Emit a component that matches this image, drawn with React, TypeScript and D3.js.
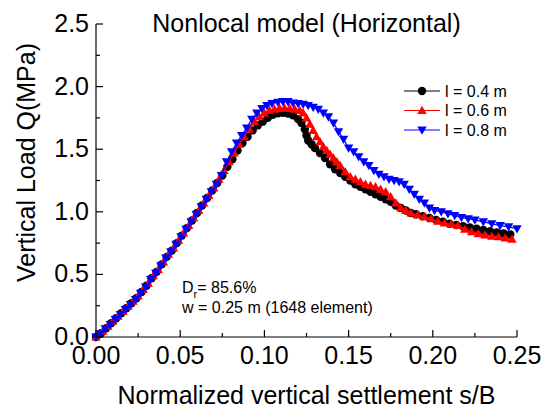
import React from "react";
import * as d3 from "d3";

// ---- data ----
const sBlack = [0, 0.003, 0.006, 0.009, 0.012, 0.015, 0.018, 0.021, 0.024, 0.027, 0.030, 0.033, 0.036, 0.039, 0.042, 0.045, 0.048, 0.051, 0.054, 0.057, 0.060, 0.063, 0.066, 0.069, 0.072, 0.075, 0.078, 0.081, 0.084, 0.087, 0.090, 0.093, 0.096, 0.099, 0.102, 0.105, 0.108, 0.111, 0.114, 0.117, 0.120, 0.122, 0.124, 0.125, 0.126, 0.128, 0.130, 0.133, 0.136, 0.139, 0.142, 0.145, 0.148, 0.151, 0.154, 0.157, 0.160, 0.163, 0.166, 0.169, 0.172, 0.175, 0.178, 0.181, 0.184, 0.187, 0.190, 0.194, 0.198, 0.202, 0.206, 0.210, 0.214, 0.218, 0.222, 0.226, 0.230, 0.234, 0.238, 0.242, 0.246];
const qBlack = [0, 0.03, 0.07, 0.11, 0.15, 0.19, 0.23, 0.27, 0.31, 0.36, 0.41, 0.47, 0.52, 0.58, 0.64, 0.69, 0.75, 0.81, 0.87, 0.93, 0.99, 1.05, 1.11, 1.17, 1.23, 1.29, 1.36, 1.42, 1.49, 1.55, 1.60, 1.65, 1.69, 1.72, 1.75, 1.775, 1.787, 1.79, 1.785, 1.77, 1.74, 1.71, 1.66, 1.61, 1.57, 1.54, 1.51, 1.47, 1.43, 1.38, 1.34, 1.31, 1.28, 1.25, 1.22, 1.20, 1.18, 1.16, 1.14, 1.12, 1.10, 1.08, 1.05, 1.03, 1.01, 0.99, 0.98, 0.965, 0.95, 0.935, 0.92, 0.905, 0.895, 0.885, 0.875, 0.865, 0.855, 0.845, 0.835, 0.828, 0.82];

const sRed = [0, 0.004, 0.007, 0.010, 0.013, 0.016, 0.019, 0.022, 0.025, 0.028, 0.031, 0.034, 0.037, 0.040, 0.043, 0.046, 0.049, 0.052, 0.055, 0.058, 0.061, 0.064, 0.067, 0.070, 0.073, 0.076, 0.079, 0.082, 0.085, 0.088, 0.091, 0.094, 0.097, 0.100, 0.103, 0.106, 0.109, 0.112, 0.115, 0.118, 0.121, 0.123, 0.125, 0.127, 0.129, 0.131, 0.133, 0.135, 0.137, 0.139, 0.141, 0.143, 0.145, 0.148, 0.151, 0.154, 0.157, 0.160, 0.163, 0.166, 0.169, 0.172, 0.175, 0.178, 0.181, 0.184, 0.187, 0.191, 0.195, 0.199, 0.203, 0.207, 0.211, 0.215, 0.219, 0.223, 0.227, 0.231, 0.235, 0.239, 0.243, 0.247];
const qRed = [0, 0.045, 0.085, 0.125, 0.165, 0.205, 0.245, 0.285, 0.33, 0.38, 0.43, 0.49, 0.54, 0.60, 0.66, 0.71, 0.77, 0.83, 0.89, 0.95, 1.01, 1.07, 1.13, 1.19, 1.26, 1.33, 1.40, 1.47, 1.54, 1.60, 1.66, 1.72, 1.76, 1.79, 1.81, 1.82, 1.826, 1.828, 1.826, 1.82, 1.81, 1.79, 1.75, 1.70, 1.65, 1.60, 1.56, 1.52, 1.49, 1.46, 1.43, 1.40, 1.37, 1.32, 1.28, 1.26, 1.24, 1.22, 1.21, 1.20, 1.18, 1.16, 1.12, 1.07, 1.03, 1.01, 0.99, 0.975, 0.96, 0.945, 0.925, 0.91, 0.90, 0.89, 0.86, 0.84, 0.825, 0.815, 0.805, 0.80, 0.79, 0.78];

const sBlue = [0, 0.0025, 0.0055, 0.0085, 0.0115, 0.0145, 0.0175, 0.0205, 0.0235, 0.0265, 0.0295, 0.0325, 0.0355, 0.0385, 0.0415, 0.0445, 0.0475, 0.0505, 0.0535, 0.0565, 0.0595, 0.0625, 0.0655, 0.0685, 0.0715, 0.0745, 0.0775, 0.0805, 0.0835, 0.0865, 0.0895, 0.0925, 0.0955, 0.0985, 0.1015, 0.1045, 0.108, 0.111, 0.114, 0.117, 0.120, 0.123, 0.126, 0.129, 0.132, 0.135, 0.138, 0.141, 0.144, 0.147, 0.150, 0.153, 0.156, 0.159, 0.162, 0.165, 0.168, 0.171, 0.174, 0.177, 0.180, 0.183, 0.186, 0.189, 0.192, 0.195, 0.198, 0.201, 0.205, 0.209, 0.213, 0.217, 0.221, 0.225, 0.230, 0.235, 0.240, 0.245, 0.250];
const qBlue = [0, 0.025, 0.065, 0.10, 0.14, 0.18, 0.22, 0.26, 0.30, 0.35, 0.40, 0.46, 0.51, 0.57, 0.63, 0.68, 0.74, 0.80, 0.86, 0.92, 0.98, 1.04, 1.10, 1.16, 1.22, 1.29, 1.40, 1.48, 1.55, 1.61, 1.67, 1.74, 1.79, 1.825, 1.85, 1.865, 1.875, 1.88, 1.88, 1.87, 1.865, 1.86, 1.85, 1.835, 1.82, 1.79, 1.76, 1.71, 1.64, 1.58, 1.51, 1.48, 1.44, 1.40, 1.37, 1.33, 1.30, 1.28, 1.26, 1.25, 1.24, 1.22, 1.18, 1.14, 1.10, 1.07, 1.03, 1.01, 1.00, 0.985, 0.97, 0.955, 0.945, 0.935, 0.92, 0.905, 0.89, 0.88, 0.865];

const seriesNames = ["l = 0.4 m", "l = 0.6 m", "l = 0.8 m"];
const seriesColors = ["#000000", "#ff0000", "#0000ff"];
const xTicks = [0, 0.05, 0.1, 0.15, 0.2, 0.25];
const yTicks = [0, 0.5, 1.0, 1.5, 2.0, 2.5];

const FONT = "'Liberation Sans', Arial, Helvetica, sans-serif";

const W = 544, H = 410;
const left = 96, right = 517, top = 24, bottom = 337;

const x = d3.scaleLinear().domain([0, 0.25]).range([left, right]);
const y = d3.scaleLinear().domain([0, 2.5]).range([bottom, top]);

type Pt = [number, number];
const mk = (s: number[], q: number[]): Pt[] => s.map((v, i) => [v, q[i]]);
const series: Pt[][] = [mk(sBlack, qBlack), mk(sRed, qRed), mk(sBlue, qBlue)];

const line = d3.line<Pt>().x(d => x(d[0])).y(d => y(d[1]));

function Marker({ kind, cx, cy, color }: { kind: number; cx: number; cy: number; color: string }) {
  if (kind === 0) return <circle cx={cx} cy={cy} r={4.2} fill={color} />;
  if (kind === 1)
    return <path d={`M${cx},${cy - 4.8}L${cx + 4.7},${cy + 3.5}L${cx - 4.7},${cy + 3.5}Z`} fill={color} />;
  return <path d={`M${cx},${cy + 4.8}L${cx + 4.7},${cy - 3.5}L${cx - 4.7},${cy - 3.5}Z`} fill={color} />;
}

export default function App() {
  const xMinor = d3.range(0, 0.2501, 0.025);
  const yMinor = d3.range(0, 2.501, 0.25);
  return (
    <svg width={W} height={H} style={{ position: "absolute", left: 0, top: 0, background: "#fff" }} fontFamily={FONT}>
      <rect x={0} y={0} width={W} height={H} fill="#fff" />
      {/* data */}
      {series.map((pts, k) => (
        <g key={k}>
          <path d={line(pts) || ""} fill="none" stroke={seriesColors[k]} strokeWidth={1.2} />
          {pts.map((p, i) => (
            <Marker key={i} kind={k} cx={x(p[0])} cy={y(p[1])} color={seriesColors[k]} />
          ))}
        </g>
      ))}
      {/* axes */}
      <line x1={left} y1={bottom} x2={right} y2={bottom} stroke="#000" strokeWidth={1.2} />
      <line x1={left} y1={bottom} x2={left} y2={top} stroke="#000" strokeWidth={1.2} />
      {xMinor.map((v, i) => (
        <line key={"xm" + i} x1={x(v)} x2={x(v)} y1={bottom} y2={bottom - (i % 2 === 0 ? 7 : 4)} stroke="#000" strokeWidth={1.2} />
      ))}
      {yMinor.map((v, i) => (
        <line key={"ym" + i} x1={left} x2={left + (i % 2 === 0 ? 7 : 4)} y1={y(v)} y2={y(v)} stroke="#000" strokeWidth={1.2} />
      ))}
      {xTicks.map((v, i) => (
        <text key={"xt" + i} x={x(v)} y={364} textAnchor="middle" fontSize={25}>{v.toFixed(2)}</text>
      ))}
      {yTicks.map((v, i) => (
        <text key={"yt" + i} x={89} y={y(v) + 8} textAnchor="end" fontSize={25}>{v.toFixed(1)}</text>
      ))}
      <text x={(left + right) / 2} y={404} textAnchor="middle" fontSize={25}>Normalized vertical settlement s/B</text>
      <text transform={`translate(35,${(top + bottom) / 2 - 18}) rotate(-90)`} textAnchor="middle" fontSize={25}>Vertical Load Q(MPa)</text>
      <text x={(left + right) / 2} y={32} textAnchor="middle" fontSize={25}>Nonlocal model (Horizontal)</text>
      {/* legend */}
      {seriesNames.map((n, k) => {
        const cy = 91 + k * 19.5;
        return (
          <g key={"lg" + k}>
            <line x1={404} x2={440} y1={cy} y2={cy} stroke={seriesColors[k]} strokeWidth={1.2} />
            <Marker kind={k} cx={422} cy={cy} color={seriesColors[k]} />
            <text x={445} y={cy + 5.5} fontSize={16}>{n}</text>
          </g>
        );
      })}
      {/* annotation */}
      <text x={182} y={293} fontSize={16}>D<tspan fontSize={11} dy={5}>r</tspan><tspan dy={-5}>= 85.6%</tspan></text>
      <text x={182} y={313} fontSize={16}>w = 0.25 m (1648 element)</text>
    </svg>
  );
}
